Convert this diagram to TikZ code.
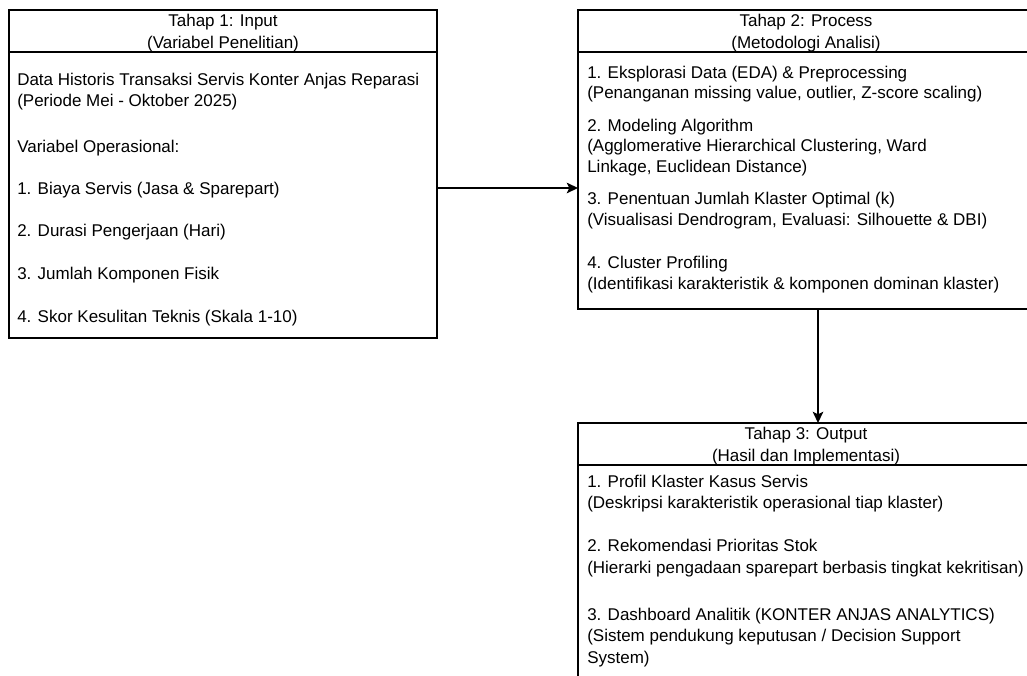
\documentclass[tikz,border=0pt]{standalone}
\usepackage{fontspec}
\setmainfont{Liberation Sans}
\usetikzlibrary{arrows.meta}
\begin{document}
\begin{tikzpicture}[x=0.75pt,y=-0.75pt,
  box/.style={draw=black, line width=1.1pt, rectangle, inner sep=0pt, outer sep=0pt, anchor=north west},
  divider/.style={draw=black, line width=1.1pt},
  titletext/.style={align=center, inner sep=0pt, anchor=base, font=\fontsize{12.75pt}{16.5pt}\selectfont},
  bodytext/.style={align=left, inner sep=0pt, anchor=base west, font=\fontsize{12.75pt}{15.75pt}\selectfont},
  conn/.style={draw=black, line width=1.1pt, -{Stealth[length=8.5pt,width=8pt,inset=2pt]}}]
\useasboundingbox (0,0) rectangle (1027,675);
\clip (0,0) rectangle (1027,675);

% Boxes
\node[box, minimum width=321pt, minimum height=246pt] (b1) at (9,10) {};
\node[box, minimum width=342pt, minimum height=224.25pt] (b2) at (578,10) {};
\node[box, minimum width=342pt, minimum height=200.25pt] (b3) at (578,423) {};

% Header dividers
\coordinate (d1) at (0,52);
\coordinate (d3) at (0,465);
\draw[divider] (b1.west |- d1) -- (b1.east |- d1);
\draw[divider] (b2.west |- d1) -- (b2.east |- d1);
\draw[divider] (b3.west |- d3) -- (b3.east |- d3);

% Titles (anchored at the baseline of their last line)
\node[titletext] (t1) at (223,48) {Tahap 1: Input\\(Variabel Penelitian)};
\node[titletext] (t2) at (806,48) {Tahap 2: Process\\(Metodologi Analisi)};
\node[titletext] (t3) at (806,461) {Tahap 3: Output\\(Hasil dan Implementasi)};

% Bodies (anchored at the baseline of their last line)
\node[bodytext] (x1) at (17,322) {Data Historis Transaksi Servis Konter Anjas Reparasi\\
(Periode Mei - Oktober 2025)\\[18.75pt]
Variabel Operasional:\\[15.75pt]
1. Biaya Servis (Jasa \& Sparepart)\\[16.25pt]
2. Durasi Pengerjaan (Hari)\\[16.25pt]
3. Jumlah Komponen Fisik\\[16.25pt]
4. Skor Kesulitan Teknis (Skala 1-10)};

\node[bodytext, font=\fontsize{12.75pt}{15.375pt}\selectfont] (x2) at (587,289) {1. Eksplorasi Data (EDA) \& Preprocessing\\
(Penanganan missing value, outlier, Z-score scaling)\\[9pt]
2. Modeling Algorithm\\
(Agglomerative Hierarchical Clustering, Ward\\
Linkage, Euclidean Distance)\\[9pt]
3. Penentuan Jumlah Klaster Optimal (k)\\
(Visualisasi Dendrogram, Evaluasi: Silhouette \& DBI)\\[16.9pt]
4. Cluster Profiling\\
(Identifikasi karakteristik \& komponen dominan klaster)};

\node[bodytext, font=\fontsize{12.75pt}{16.125pt}\selectfont] (x3) at (587,663) {1. Profil Klaster Kasus Servis\\
(Deskripsi karakteristik operasional tiap klaster)\\[16.1pt]
2. Rekomendasi Prioritas Stok\\
(Hierarki pengadaan sparepart berbasis tingkat kekritisan)\\[19.1pt]
3. Dashboard Analitik (KONTER ANJAS ANALYTICS)\\
(Sistem pendukung keputusan / Decision Support\\
System)};

% Connectors
\coordinate (h) at (0,188);
\coordinate (v) at (818,0);
\draw[conn] (b1.east |- h) -- (b2.west |- h);
\draw[conn] (b2.south -| v) -- (b3.north -| v);
\end{tikzpicture}
\end{document}
